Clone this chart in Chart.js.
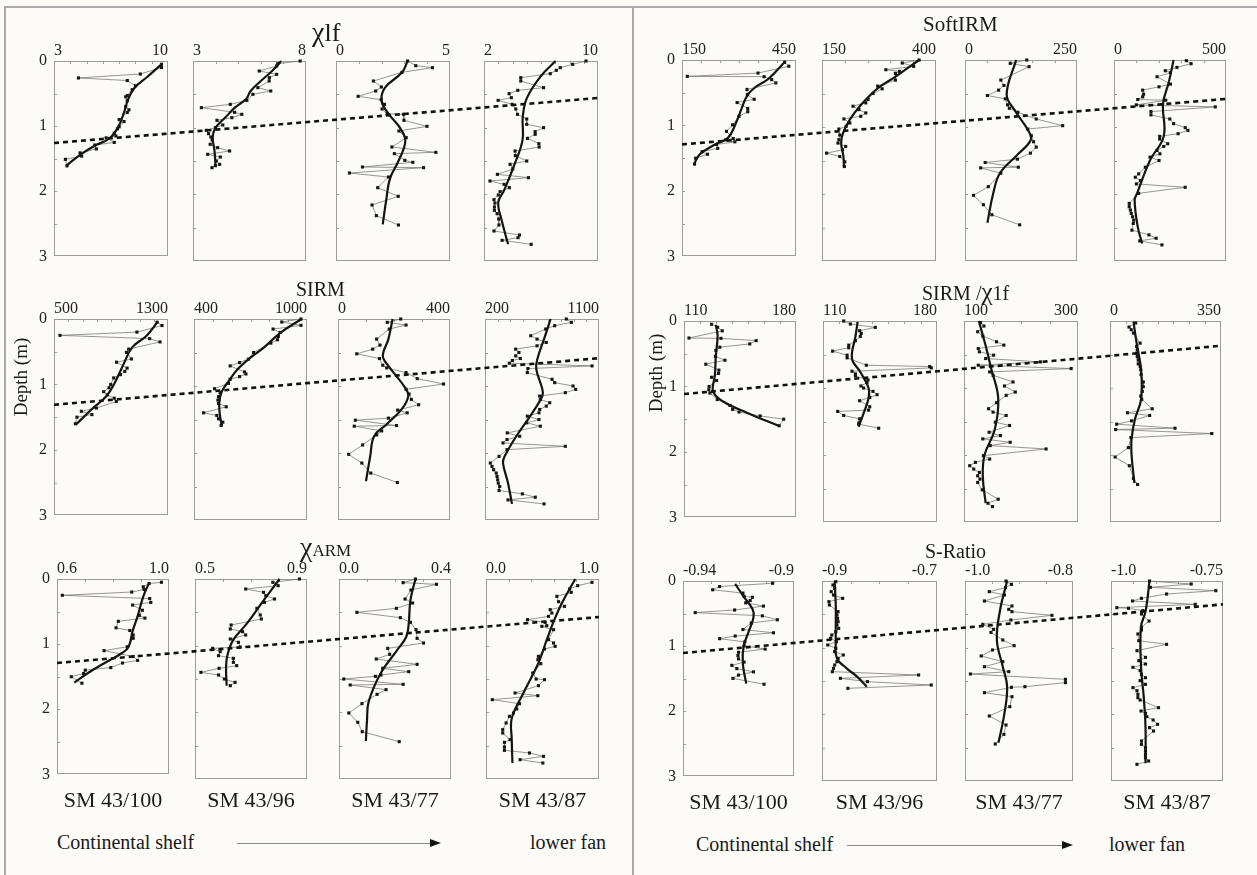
<!DOCTYPE html>
<html><head><meta charset="utf-8">
<script src="https://cdn.jsdelivr.net/npm/chart.js@4.4.1/dist/chart.umd.min.js"></script>
<style>
html,body{margin:0;padding:0;background:#fcfbf8;}
#wrap{position:relative;width:1257px;height:875px;overflow:hidden;background:#fcfbf8;font-family:"Liberation Serif","Times New Roman",serif;color:#1a1a1a;}
canvas{position:absolute;}
.t{position:absolute;white-space:nowrap;line-height:1;}
.ln{position:absolute;background:#aaa;}
</style></head><body><div id="wrap"></div>
<script>
// ===== DATA: [depth (m), value] =====
const cores = ['SM 43/100','SM 43/96','SM 43/77','SM 43/87'];

// χlf
const chilf_100 = [[0.05,9.6],[0.1,9.6],[0.2,8.3],[0.26,4.5],[0.3,7.5],[0.38,8.0],[0.44,7.8],[0.53,7.5],[0.55,7.4],[0.61,7.5],[0.7,7.4],[0.75,7.6],[0.79,7.5],[0.9,7.0],[0.93,7.3],[1.01,7.0],[1.04,6.9],[1.11,6.7],[1.15,6.8],[1.18,6.2],[1.25,6.7],[1.29,5.5],[1.35,5.6],[1.41,4.6],[1.46,4.7],[1.51,3.7],[1.61,3.8]];
const chilf_100_fit = [[0.04,9.65],[0.25,8.7],[0.41,7.95],[0.59,7.55],[0.79,7.3],[1.01,6.95],[1.19,6.4],[1.3,5.5],[1.44,4.6],[1.61,3.75]];
const chilf_96 = [[0.0,7.74],[0.04,6.75],[0.075,6.7],[0.15,5.93],[0.2,6.7],[0.25,6.38],[0.3,6.37],[0.4,5.87],[0.45,6.44],[0.5,5.65],[0.59,5.38],[0.65,4.65],[0.7,3.37],[0.77,4.84],[0.8,5.16],[0.85,4.72],[0.89,4.06],[0.96,4.32],[1.0,3.99],[1.04,3.59],[1.09,3.69],[1.14,3.79],[1.18,3.85],[1.25,3.76],[1.3,4.09],[1.35,4.62],[1.4,3.65],[1.44,4.21],[1.5,4.03],[1.55,4.18],[1.57,3.99],[1.6,3.84]];
const chilf_96_fit = [[0,6.9],[0.15,6.5],[0.3,6.0],[0.45,5.55],[0.57,5.35],[0.7,4.85],[0.84,4.45],[1.0,4.0],[1.15,3.87],[1.34,3.95],[1.59,4.0]];
const chilf_77 = [[0.0,3.14],[0.07,3.5],[0.1,4.23],[0.17,2.89],[0.3,1.64],[0.39,1.99],[0.45,1.74],[0.53,0.97],[0.58,1.98],[0.65,2.13],[0.72,2.02],[0.79,2.24],[0.8,2.96],[0.89,2.98],[0.98,3.99],[1.05,2.76],[1.15,3.08],[1.29,2.45],[1.37,4.38],[1.39,2.56],[1.49,3.02],[1.52,3.37],[1.59,1.16],[1.6,3.84],[1.68,0.59],[1.74,2.3],[1.9,1.83],[2.03,2.73],[2.16,1.58],[2.32,1.77],[2.46,2.74]];
const chilf_77_fit = [[0,3.14],[0.17,2.9],[0.4,2.15],[0.6,2.0],[0.79,2.3],[1.0,2.8],[1.2,3.04],[1.5,2.74],[1.76,2.37],[2.09,2.2],[2.45,2.05]];
const chilf_87 = [[0,9.16],[0.05,8.22],[0.1,7.35],[0.14,7.07],[0.19,6.65],[0.25,4.58],[0.3,4.58],[0.4,6.18],[0.44,4.37],[0.49,3.76],[0.55,3.92],[0.59,2.99],[0.65,3.97],[0.72,4.23],[0.8,4.35],[0.87,5.0],[0.95,5.0],[1.0,6.18],[1.06,5.59],[1.1,5.59],[1.16,5.05],[1.24,5.85],[1.29,5.87],[1.35,4.18],[1.42,4.2],[1.5,5.0],[1.55,3.83],[1.62,4.02],[1.7,2.94],[1.75,5.12],[1.8,2.42],[1.85,3.41],[1.9,3.78],[1.96,3.13],[2.01,3.0],[2.08,2.7],[2.13,2.77],[2.19,2.73],[2.24,2.73],[2.29,2.92],[2.37,3.03],[2.46,3.05],[2.55,2.7],[2.61,4.49],[2.65,4.39],[2.69,3.27],[2.75,5.31]];
const chilf_87_fit = [[0,7.02],[0.24,5.94],[0.56,5.0],[0.84,4.72],[1.19,4.7],[1.59,4.07],[1.94,3.41],[2.12,3.0],[2.39,3.24],[2.75,3.69]];
const chilf_range = [[3,10],[3,8],[0,5],[2,10]];
const chilf_labels = [['3','10'],['3','8'],['0','5'],['2','10']];
const chilf_step = [1,1,1,1];
const chilf_dash = [1.23,0.555];

// SoftIRM
const soft_100 = [[0.035,420],[0.095,431],[0.2,350],[0.25,164],[0.255,366],[0.3,386],[0.35,397],[0.45,321],[0.53,322],[0.6,340],[0.65,295],[0.74,323],[0.79,323],[0.86,300],[0.99,283],[1.09,267],[1.2,285],[1.22,265],[1.25,289],[1.29,241],[1.35,244],[1.4,203],[1.44,217],[1.5,186],[1.59,183]];
const soft_100_fit = [[0.02,422],[0.29,377],[0.42,342],[0.54,322],[0.74,307],[0.99,290],[1.19,271],[1.29,237],[1.44,197],[1.6,181]];
const soft_96 = [[0,363],[0.045,326],[0.095,351],[0.145,290],[0.17,320],[0.2,311],[0.3,311],[0.39,272],[0.43,282],[0.5,262],[0.59,251],[0.64,246],[0.69,218],[0.74,231],[0.79,246],[0.84,235],[0.88,198],[0.94,211],[0.99,203],[1.03,187],[1.12,189],[1.19,187],[1.24,185],[1.29,202],[1.34,195],[1.39,160],[1.44,189],[1.52,200],[1.59,199]];
const soft_96_fit = [[0,363],[0.24,313],[0.44,269],[0.69,233],[0.89,211],[1.09,196],[1.24,192],[1.44,197],[1.59,198]];
const soft_77 = [[0,138],[0.05,101],[0.1,143],[0.3,80],[0.38,87],[0.45,75],[0.53,50],[0.58,90],[0.67,95],[0.72,99],[0.78,118],[0.88,159],[0.98,218],[1.03,140],[1.13,148],[1.22,153],[1.3,159],[1.39,146],[1.48,117],[1.53,45],[1.6,119],[1.61,35],[1.69,80],[1.89,52],[2.02,19],[2.16,41],[2.31,60],[2.46,122]];
const soft_77_fit = [[0,114],[0.52,93],[0.77,113],[1.04,140],[1.19,147],[1.42,116],[1.69,78],[1.99,63],[2.43,50]];
const soft_87 = [[0.01,323],[0.055,344],[0.11,281],[0.16,229],[0.19,252],[0.25,192],[0.36,252],[0.4,201],[0.45,128],[0.51,132],[0.55,128],[0.59,106],[0.6,231],[0.67,100],[0.7,452],[0.77,165],[0.82,165],[0.88,249],[0.95,266],[1.01,318],[1.05,330],[1.1,286],[1.14,204],[1.18,204],[1.25,240],[1.29,222],[1.35,192],[1.4,205],[1.45,161],[1.5,201],[1.6,140],[1.7,110],[1.75,95],[1.8,118],[1.85,100],[1.9,318],[1.99,110],[2.14,68],[2.19,68],[2.24,73],[2.29,77],[2.34,83],[2.39,88],[2.44,86],[2.54,80],[2.61,156],[2.66,188],[2.7,115],[2.76,214]];
const soft_87_fit = [[0,266],[0.34,244],[0.65,219],[1.14,222],[1.49,162],[1.99,103],[2.09,92],[2.49,106],[2.74,126]];
const soft_range = [[150,450],[150,400],[0,250],[0,500]];
const soft_labels = [['150','450'],['150','400'],['0','250'],['0','500']];
const soft_step = [50,50,50,100];
const soft_dash = [1.26,0.58];

// SIRM
const sirm_100 = [[0.05,1223],[0.1,1258],[0.2,1082],[0.25,542],[0.3,1171],[0.35,1244],[0.46,1024],[0.51,1008],[0.61,1043],[0.66,939],[0.75,1013],[0.8,997],[0.85,966],[0.9,919],[1.0,898],[1.05,886],[1.11,849],[1.16,874],[1.21,923],[1.26,937],[1.36,797],[1.41,692],[1.46,766],[1.5,661],[1.6,650]];
const sirm_100_fit = [[0.035,1230],[0.26,1148],[0.43,1050],[0.71,984],[0.98,925],[1.18,867],[1.36,774],[1.61,655]];
const sirm_96 = [[0,968],[0.045,866],[0.095,968],[0.15,820],[0.2,857],[0.26,848],[0.31,843],[0.36,808],[0.5,716],[0.6,689],[0.65,642],[0.7,592],[0.79,668],[0.82,676],[0.86,642],[0.9,592],[0.96,583],[1.04,509],[1.1,539],[1.16,530],[1.21,527],[1.26,530],[1.31,571],[1.4,451],[1.44,521],[1.49,530],[1.54,553],[1.59,544]];
const sirm_96_fit = [[0,971],[0.21,857],[0.43,769],[0.58,698],[0.76,628],[0.91,589],[1.08,548],[1.26,534],[1.46,539],[1.6,548]];
const sirm_77 = [[0,224],[0.05,176],[0.09,243],[0.15,183],[0.3,138],[0.39,150],[0.45,124],[0.52,67],[0.59,148],[0.69,160],[0.73,174],[0.8,243],[0.89,283],[0.97,377],[1.05,243],[1.12,254],[1.2,262],[1.28,288],[1.36,213],[1.4,247],[1.48,180],[1.51,62],[1.59,209],[1.6,58],[1.67,156],[1.73,138],[1.88,88],[2.02,38],[2.15,85],[2.3,117],[2.44,212]];
const sirm_77_fit = [[0,195],[0.3,180],[0.55,160],[0.7,180],[1.02,239],[1.15,251],[1.35,227],[1.57,174],[1.75,129],[2.05,115],[2.42,100]];
const sirm_87 = [[0,842],[0.05,882],[0.1,750],[0.15,679],[0.25,561],[0.3,611],[0.35,684],[0.4,611],[0.45,442],[0.5,468],[0.55,442],[0.59,479],[0.62,416],[0.66,392],[0.7,1045],[0.74,539],[0.8,534],[0.9,729],[0.95,750],[1.0,895],[1.05,916],[1.1,834],[1.15,632],[1.2,637],[1.25,711],[1.3,684],[1.35,632],[1.4,626],[1.45,534],[1.5,626],[1.55,529],[1.6,637],[1.7,376],[1.75,474],[1.8,374],[1.85,342],[1.9,834],[1.95,374],[2.05,311],[2.15,242],[2.2,255],[2.25,268],[2.3,289],[2.35,295],[2.4,300],[2.45,305],[2.5,316],[2.56,311],[2.61,495],[2.66,597],[2.7,382],[2.76,666]];
const sirm_87_fit = [[0,718],[0.3,666],[0.6,613],[0.75,605],[1.05,653],[1.15,653],[1.4,574],[1.75,447],[2.05,355],[2.15,342],[2.45,382],[2.76,413]];
const sirm_range = [[500,1300],[400,1000],[0,400],[200,1100]];
const sirm_labels = [['500','1300'],['400','1000'],['0','400'],['200','1100']];
const sirm_step = [100,100,100,100];
const sirm_dash = [1.28,0.585];

// SIRM/χlf
const ratio_100 = [[0.05,127.2],[0.095,131.0],[0.15,133.9],[0.26,113.1],[0.265,133.1],[0.3,155.1],[0.35,151.1],[0.4,132.4],[0.45,129.9],[0.54,129.7],[0.6,135.6],[0.66,123.6],[0.75,131.8],[0.8,131.6],[0.86,127.2],[0.91,130.4],[1.0,125.7],[1.05,125.5],[1.1,126.2],[1.2,130.8],[1.29,138.7],[1.35,140.4],[1.39,144.4],[1.45,157.6],[1.5,172.3],[1.6,169.5]];
const ratio_100_fit = [[0.06,129.9],[0.23,131.0],[0.53,129.9],[0.83,129.3],[1.08,128.2],[1.23,134.5],[1.4,149.2],[1.6,169.1]];
const ratio_96 = [[0,122.7],[0.045,126.8],[0.095,142.1],[0.145,132.5],[0.185,133.5],[0.23,132.9],[0.295,129.9],[0.36,125.8],[0.4,125.8],[0.45,115.9],[0.51,124.8],[0.55,124.8],[0.66,136.6],[0.68,175.5],[0.7,176.5],[0.75,127.8],[0.79,129.9],[0.82,129.9],[0.88,137.6],[0.92,137.0],[0.97,133.3],[1.0,134.9],[1.05,140.7],[1.1,143.2],[1.14,138.7],[1.19,132.5],[1.28,138.7],[1.33,138.0],[1.35,119.0],[1.41,122.7],[1.46,132.5],[1.52,132.1],[1.54,131.9],[1.6,144.2]];
const ratio_96_fit = [[0.015,131.3],[0.235,129.9],[0.56,127.8],[0.76,132.9],[1.0,138.0],[1.15,138.0],[1.38,134.9],[1.58,131.9]];
const ratio_77 = [[0.025,129],[0.075,135],[0.16,124],[0.225,133],[0.31,157],[0.36,170],[0.41,125],[0.46,127],[0.51,152],[0.56,138],[0.61,234],[0.66,125],[0.71,288],[0.76,145],[0.81,151],[0.91,186],[0.97,171],[1.06,190],[1.11,174],[1.22,157],[1.31,143],[1.36,151],[1.41,174],[1.51,155],[1.56,180],[1.66,144],[1.71,164],[1.76,133],[1.81,181],[1.86,146],[1.91,244],[2.01,134],[2.06,145],[2.11,120],[2.16,110],[2.21,117],[2.26,127],[2.31,124],[2.36,128],[2.41,124],[2.52,132],[2.66,160],[2.72,142],[2.77,150]];
const ratio_77_fit = [[0,126],[0.37,138],[0.72,148],[1.15,160],[1.62,154],[2.0,136],[2.32,133],[2.72,138]];
const ratio_87 = [[0.03,81],[0.09,60],[0.13,67],[0.18,74],[0.33,95],[0.38,84],[0.43,86],[0.48,84],[0.53,86],[0.58,89],[0.64,89],[0.68,95],[0.73,97],[0.8,98],[0.91,105],[0.98,105],[1.05,102],[1.12,97],[1.17,100],[1.31,133],[1.37,55],[1.41,125],[1.49,68],[1.54,21],[1.6,205],[1.62,18],[1.68,321],[1.74,66],[1.89,58],[2.03,16],[2.16,61],[2.35,74],[2.44,87]];
const ratio_87_fit = [[0.01,74],[0.33,84],[0.73,98],[1.17,98],[1.46,79],[1.76,68],[2.0,68],[2.42,77]];
const ratio_range = [[110,180],[110,180],[100,300],[0,350]];
const ratio_labels = [['110','180'],['110','180'],['100','300'],['0','350']];
const ratio_step = [10,10,50,50];
const ratio_dash = [1.09,0.37];

// χARM
const arm_100 = [[0.05,0.973],[0.07,0.929],[0.12,0.908],[0.16,0.911],[0.2,0.867],[0.25,0.619],[0.3,0.931],[0.36,0.935],[0.4,0.87],[0.48,0.905],[0.56,0.894],[0.6,0.914],[0.65,0.819],[0.75,0.811],[0.79,0.86],[0.86,0.872],[0.91,0.872],[1.04,0.851],[1.1,0.768],[1.19,0.872],[1.25,0.888],[1.29,0.834],[1.36,0.792],[1.4,0.701],[1.45,0.695],[1.5,0.651],[1.6,0.689]];
const arm_100_fit = [[0.06,0.929],[0.27,0.908],[0.57,0.888],[0.8,0.87],[1.04,0.856],[1.14,0.831],[1.27,0.778],[1.44,0.712],[1.59,0.662]];
const arm_96 = [[0,0.873],[0.05,0.778],[0.1,0.797],[0.15,0.681],[0.2,0.745],[0.25,0.753],[0.3,0.784],[0.35,0.748],[0.44,0.721],[0.54,0.733],[0.6,0.737],[0.69,0.629],[0.75,0.626],[0.79,0.67],[0.84,0.681],[0.9,0.626],[0.95,0.655],[1.02,0.661],[1.04,0.563],[1.09,0.59],[1.15,0.584],[1.19,0.637],[1.25,0.637],[1.3,0.649],[1.34,0.586],[1.4,0.521],[1.44,0.584],[1.5,0.605],[1.55,0.643],[1.6,0.626]];
const arm_96_fit = [[0,0.802],[0.32,0.745],[0.67,0.685],[0.91,0.637],[1.14,0.616],[1.31,0.611],[1.6,0.613]];
const arm_77 = [[0,0.273],[0.055,0.229],[0.08,0.348],[0.165,0.257],[0.3,0.236],[0.36,0.263],[0.44,0.205],[0.5,0.064],[0.58,0.219],[0.65,0.255],[0.76,0.275],[0.89,0.279],[0.96,0.302],[1.04,0.174],[1.13,0.181],[1.2,0.133],[1.28,0.279],[1.34,0.156],[1.39,0.249],[1.44,0.15],[1.46,0.13],[1.5,0.017],[1.58,0.229],[1.59,0.04],[1.66,0.168],[1.73,0.136],[1.87,0.082],[2.01,0.035],[2.15,0.067],[2.29,0.083],[2.44,0.215]];
const arm_77_fit = [[0,0.273],[0.32,0.255],[0.67,0.249],[0.87,0.24],[1.07,0.207],[1.42,0.148],[1.84,0.106],[2.12,0.1],[2.43,0.096]];
const arm_87 = [[0.05,0.938],[0.1,0.811],[0.15,0.74],[0.2,0.754],[0.26,0.627],[0.34,0.642],[0.41,0.695],[0.46,0.568],[0.51,0.583],[0.56,0.553],[0.61,0.367],[0.65,0.524],[0.7,0.538],[0.71,0.494],[0.76,0.598],[0.91,0.553],[0.96,0.598],[1.01,0.612],[1.05,0.518],[1.16,0.464],[1.21,0.459],[1.27,0.485],[1.41,0.414],[1.5,0.444],[1.51,0.518],[1.6,0.464],[1.71,0.257],[1.75,0.459],[1.81,0.056],[1.87,0.296],[1.95,0.272],[2.01,0.243],[2.06,0.207],[2.16,0.178],[2.26,0.148],[2.31,0.148],[2.41,0.213],[2.45,0.163],[2.52,0.163],[2.57,0.163],[2.61,0.385],[2.66,0.509],[2.71,0.302],[2.76,0.503]];
const arm_87_fit = [[0,0.79],[0.36,0.672],[0.64,0.598],[0.91,0.538],[1.26,0.464],[1.71,0.331],[2.09,0.228],[2.41,0.228],[2.76,0.234]];
const arm_range = [[0.6,1.0],[0.5,0.9],[0.0,0.4],[0.0,1.0]];
const arm_labels = [['0.6','1.0'],['0.5','0.9'],['0.0','0.4'],['0.0','1.0']];
const arm_step = [0.1,0.1,0.1,0.2];
const arm_dash = [1.26,0.57];

// S-Ratio
const sr_100 = [[0.035,-0.9077],[0.085,-0.9268],[0.135,-0.9293],[0.185,-0.9184],[0.235,-0.918],[0.25,-0.915],[0.3,-0.9158],[0.335,-0.9174],[0.385,-0.911],[0.445,-0.9214],[0.485,-0.9356],[0.535,-0.9114],[0.595,-0.906],[0.645,-0.9154],[0.745,-0.9184],[0.795,-0.9074],[0.845,-0.9212],[0.885,-0.9268],[0.935,-0.9177],[0.995,-0.918],[1.045,-0.9104],[1.095,-0.92],[1.145,-0.9202],[1.195,-0.92],[1.245,-0.918],[1.295,-0.9224],[1.345,-0.9206],[1.395,-0.9146],[1.445,-0.92],[1.495,-0.922],[1.585,-0.9108]];
const sr_100_fit = [[0.045,-0.9212],[0.235,-0.9182],[0.435,-0.9149],[0.56,-0.9146],[0.785,-0.9164],[1.01,-0.9182],[1.285,-0.9184],[1.575,-0.9172]];
const sr_96 = [[0.01,-0.876],[0.06,-0.881],[0.11,-0.878],[0.16,-0.884],[0.21,-0.880],[0.26,-0.864],[0.31,-0.888],[0.36,-0.887],[0.46,-0.872],[0.51,-0.874],[0.56,-0.873],[0.61,-0.872],[0.66,-0.874],[0.71,-0.871],[0.76,-0.876],[0.81,-0.883],[0.86,-0.885],[0.91,-0.875],[0.96,-0.890],[1.01,-0.876],[1.06,-0.878],[1.11,-0.863],[1.16,-0.872],[1.21,-0.874],[1.26,-0.878],[1.31,-0.880],[1.36,-0.882],[1.41,-0.732],[1.46,-0.868],[1.51,-0.821],[1.56,-0.710],[1.61,-0.855]];
const sr_96_fit = [[0.01,-0.878],[0.385,-0.876],[0.885,-0.876],[1.16,-0.874],[1.31,-0.857],[1.435,-0.839],[1.585,-0.822]];
const sr_77 = [[0.0,-0.924],[0.05,-0.914],[0.1,-0.925],[0.16,-0.955],[0.21,-0.927],[0.3,-0.964],[0.375,-0.913],[0.425,-0.919],[0.46,-0.913],[0.515,-0.839],[0.585,-0.915],[0.65,-0.967],[0.725,-0.947],[0.77,-0.952],[0.885,-0.930],[0.97,-0.909],[1.035,-0.949],[1.125,-0.970],[1.21,-0.930],[1.285,-0.964],[1.36,-0.919],[1.395,-0.990],[1.475,-0.814],[1.525,-0.814],[1.585,-0.889],[1.595,-0.914],[1.675,-0.964],[1.735,-0.913],[1.885,-0.917],[2.025,-0.955],[2.16,-0.924],[2.3,-0.928],[2.445,-0.944]];
const sr_77_fit = [[0,-0.922],[0.435,-0.935],[0.885,-0.941],[1.285,-0.930],[1.585,-0.922],[1.985,-0.927],[2.425,-0.938]];
const sr_87 = [[0,-0.914],[0.045,-0.821],[0.095,-0.912],[0.145,-0.766],[0.195,-0.876],[0.26,-0.932],[0.3,-0.952],[0.35,-0.812],[0.4,-0.987],[0.41,-0.961],[0.445,-0.929],[0.495,-0.932],[0.6,-0.915],[0.695,-0.932],[0.735,-0.932],[0.795,-0.940],[0.895,-0.938],[0.95,-0.876],[1.045,-0.942],[1.145,-0.923],[1.195,-0.938],[1.245,-0.923],[1.295,-0.951],[1.345,-0.935],[1.4,-0.932],[1.45,-0.923],[1.495,-0.935],[1.55,-0.923],[1.6,-0.951],[1.645,-0.942],[1.7,-0.940],[1.75,-0.940],[1.785,-0.935],[1.9,-0.894],[1.95,-0.933],[1.985,-0.923],[2.035,-0.920],[2.085,-0.906],[2.15,-0.896],[2.2,-0.914],[2.25,-0.905],[2.4,-0.932],[2.45,-0.932],[2.5,-0.923],[2.55,-0.923],[2.6,-0.923],[2.65,-0.923],[2.7,-0.916],[2.75,-0.942]];
const sr_87_fit = [[0,-0.914],[0.46,-0.923],[0.685,-0.933],[1.285,-0.933],[1.735,-0.927],[2.185,-0.923],[2.735,-0.923]];
const sr_range = [[-0.94,-0.9],[-0.9,-0.7],[-1.0,-0.8],[-1.0,-0.75]];
const sr_labels = [['-0.94','-0.9'],['-0.9','-0.7'],['-1.0','-0.8'],['-1.0','-0.75']];
const sr_step = [0.01,0.05,0.05,0.05];
const sr_dash = [1.08,0.35];

const depthTicks = [0,1,2,3];
const depthMinorStep = 0.5;

// ===== LAYOUT (positions only) =====
const FONT = '"Liberation Serif","Times New Roman",serif';
Chart.defaults.font.family = FONT;
const wrap = document.getElementById('wrap');

const rows = [
  {raw:[chilf_100,chilf_96,chilf_77,chilf_87], fit:[chilf_100_fit,chilf_96_fit,chilf_77_fit,chilf_87_fit], range:chilf_range, labels:chilf_labels, step:chilf_step, dash:chilf_dash,
   t:61,b:261, xs:[[54,168],[193,306],[336,450],[484,598]]},
  {raw:[soft_100,soft_96,soft_77,soft_87], fit:[soft_100_fit,soft_96_fit,soft_77_fit,soft_87_fit], range:soft_range, labels:soft_labels, step:soft_step, dash:soft_dash,
   t:60,b:261, xs:[[682,796],[822,936],[965,1077],[1114,1226]]},
  {raw:[sirm_100,sirm_96,sirm_77,sirm_87], fit:[sirm_100_fit,sirm_96_fit,sirm_77_fit,sirm_87_fit], range:sirm_range, labels:sirm_labels, step:sirm_step, dash:sirm_dash,
   t:319,b:520, xs:[[54,168],[194,307],[338,450],[485,599]]},
  {raw:[ratio_100,ratio_96,ratio_77,ratio_87], fit:[ratio_100_fit,ratio_96_fit,ratio_77_fit,ratio_87_fit], range:ratio_range, labels:ratio_labels, step:ratio_step, dash:ratio_dash,
   t:321,b:522, xs:[[684,796],[823,937],[964,1078],[1110,1221]]},
  {raw:[arm_100,arm_96,arm_77,arm_87], fit:[arm_100_fit,arm_96_fit,arm_77_fit,arm_87_fit], range:arm_range, labels:arm_labels, step:arm_step, dash:arm_dash,
   t:579,b:779, xs:[[57,169],[195,307],[339,451],[486,599]]},
  {raw:[sr_100,sr_96,sr_77,sr_87], fit:[sr_100_fit,sr_96_fit,sr_77_fit,sr_87_fit], range:sr_range, labels:sr_labels, step:sr_step, dash:sr_dash,
   t:581,b:781, xs:[[683,794],[822,937],[965,1073],[1111,1223]]}
];

const panelFrame = {
  id:'panelFrame',
  beforeDatasetsDraw(chart){
    const o = chart.options.plugins.panelFrame;
    if(!o || !o.on) return;
    const {ctx, chartArea:a, scales:{x,y}} = chart;
    ctx.save();
    ctx.strokeStyle = '#9c9c9c'; ctx.lineWidth = 1;
    ctx.strokeRect(Math.round(a.left)+0.5, Math.round(a.top)+0.5, Math.round(a.right-a.left)-1, Math.round(a.bottom-a.top)-1);
    ctx.beginPath();
    const n = Math.round((o.max-o.min)/o.step);
    for(let i=1;i<n;i++){ const px = Math.round(x.getPixelForValue(o.min+i*o.step))+0.5; ctx.moveTo(px,a.top); ctx.lineTo(px,a.top+3); }
    for(let d=depthMinorStep; d<3-1e-9; d+=depthMinorStep){ const py = Math.round(y.getPixelForValue(d))+0.5; ctx.moveTo(a.left,py); ctx.lineTo(a.left+3,py); }
    ctx.stroke(); ctx.restore();
  }
};

const PADL=24, PADT=24, PADR=24, PADB=12;
function makePanel(row, k){
  const [l,r] = row.xs[k];
  const W = (r-l)+PADL+PADR, H = (row.b-row.t)+PADT+PADB;
  const c = document.createElement('canvas');
  c.width=W; c.height=H;
  c.style.left=(l-PADL)+'px'; c.style.top=(row.t-PADT)+'px';
  c.style.width=W+'px'; c.style.height=H+'px';
  wrap.appendChild(c);
  const [mn,mx] = row.range[k];
  const lab = row.labels[k];
  new Chart(c,{
    type:'scatter',
    data:{datasets:[
      {data: row.raw[k].map(p=>({x:p[1],y:p[0]})), showLine:true, borderColor:'#6a6a6a', borderWidth:0.7,
       pointRadius:2.2, pointStyle:'rect', pointBackgroundColor:'#151515', pointBorderWidth:0, order:2, clip:false},
      {data: row.fit[k].map(p=>({x:p[1],y:p[0]})), showLine:true, borderColor:'#141414', borderWidth:2.2,
       pointRadius:0, tension:0.4, order:1, clip:false}
    ]},
    options:{
      responsive:false, animation:false, devicePixelRatio:1,
      layout:{padding:{left:0,top:0,right:PADR,bottom:PADB}},
      plugins:{legend:{display:false}, tooltip:{enabled:false}, panelFrame:{on:true,min:mn,max:mx,step:row.step[k]}},
      scales:{
        x:{type:'linear', position:'top', min:mn, max:mx,
           grid:{display:false, drawTicks:false}, border:{display:false},
           afterBuildTicks:s=>{ s.ticks=[{value:mn},{value:mx}]; },
           ticks:{padding:1, align:'inner', color:'#222', font:{family:FONT,size:16}, maxRotation:0, autoSkip:false,
                  callback:(v,i)=>lab[i]},
           afterFit:s=>{ s.height=PADT; }},
        y:{type:'linear', reverse:true, min:0, max:3,
           grid:{display:false, drawTicks:false}, border:{display:false},
           afterBuildTicks:s=>{ s.ticks=depthTicks.map(v=>({value:v})); },
           ticks:{display:k===0, padding:7, color:'#222', font:{family:FONT,size:16}, autoSkip:false, callback:v=>String(v)},
           afterFit:s=>{ s.width=PADL; }}
      }
    },
    plugins:[panelFrame]
  });
}

function makeDash(row){
  const x0 = row.xs[0][0], x1 = row.xs[3][1];
  const c = document.createElement('canvas');
  const W = x1-x0, H = row.b-row.t;
  c.width=W; c.height=H; c.style.left=x0+'px'; c.style.top=row.t+'px'; c.style.width=W+'px'; c.style.height=H+'px';
  wrap.appendChild(c);
  new Chart(c,{
    type:'scatter',
    data:{datasets:[{data:[{x:0,y:row.dash[0]},{x:1,y:row.dash[1]}], showLine:true, borderColor:'#111', borderWidth:2.6, borderDash:[5,4], pointRadius:0}]},
    options:{responsive:false, animation:false, devicePixelRatio:1, layout:{padding:0},
      plugins:{legend:{display:false}, tooltip:{enabled:false}},
      scales:{x:{type:'linear',display:false,min:0,max:1}, y:{type:'linear',display:false,reverse:true,min:0,max:3}}}
  });
}

// frame lines
function line(x,y,w,h){ const d=document.createElement('div'); d.className='ln'; Object.assign(d.style,{left:x+'px',top:y+'px',width:w+'px',height:h+'px'}); wrap.appendChild(d); }
line(4,6,1253,2); line(4,6,2,869); line(632,6,2,869);

rows.forEach(row=>{ for(let k=0;k<4;k++) makePanel(row,k); });
rows.forEach(makeDash);

function txt(html,x,y,size,extra){ const d=document.createElement('div'); d.className='t'; d.innerHTML=html; d.style.left=x+'px'; d.style.top=y+'px'; d.style.fontSize=size+'px'; if(extra) Object.assign(d.style,extra); wrap.appendChild(d); return d; }

// titles
txt('<span style="font-size:28px">χ</span>lf',312,18,26);
txt('SoftIRM',923,14,21);
txt('SIRM',296,279,20);
txt('<span style="font-size:28px">χ</span><span style="font-size:17px">ARM</span>',300,533,17);
txt('SIRM /<span style="font-size:25px">χ</span>1f',922,279,20);
txt('S-Ratio',925,541,20);
// depth labels
txt('Depth (m)',20,377,19,{transform:'translate(-50%,-50%) rotate(-90deg)'});
txt('Depth (m)',655,373,19,{transform:'translate(-50%,-50%) rotate(-90deg)'});
// core names
[rows[4],rows[5]].forEach(row=>{
  row.xs.forEach((xx,k)=>{ txt(cores[k], (xx[0]+xx[1])/2, row.b+10, 22, {transform:'translateX(-50%)'}); });
});
// bottom annotations
txt('Continental shelf',57,832,20);
txt('lower fan',530,832,20);
txt('Continental shelf',696,834,20);
txt('lower fan',1109,834,20);
function arrow(x0,x1,y){
  const l=document.createElement('div'); Object.assign(l.style,{position:'absolute',left:x0+'px',top:y+'px',width:(x1-x0-10)+'px',height:'1px',background:'#888'}); wrap.appendChild(l);
  const h=document.createElement('div'); Object.assign(h.style,{position:'absolute',left:(x1-11)+'px',top:(y-4)+'px',width:0,height:0,borderTop:'4.5px solid transparent',borderBottom:'4.5px solid transparent',borderLeft:'11px solid #111'}); wrap.appendChild(h);
}
arrow(237,441,843);
arrow(847,1073,845);
</script></body></html>
